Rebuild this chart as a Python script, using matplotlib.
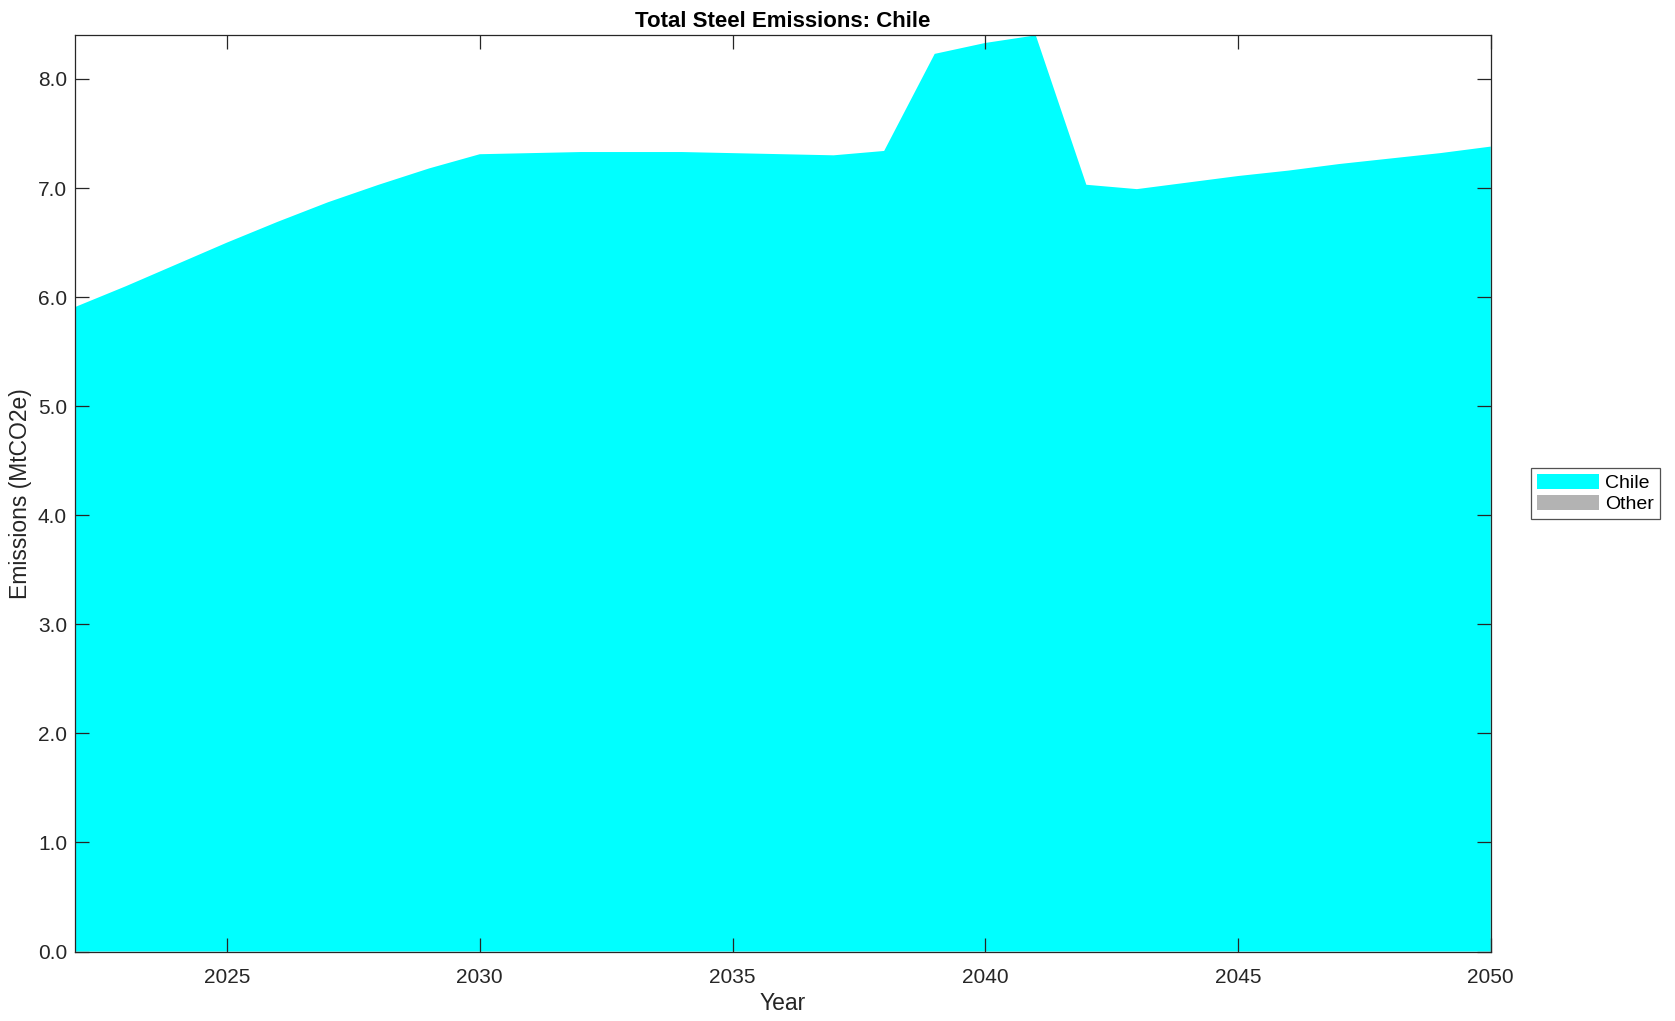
import matplotlib

matplotlib.use("Agg")
import matplotlib.pyplot as plt
import numpy as np

years = list(range(2022, 2051))
chile = [
    5.91, 6.10, 6.30, 6.50, 6.69, 6.87, 7.03, 7.18, 7.31,
    7.32, 7.33, 7.33, 7.33, 7.32, 7.31, 7.30, 7.34, 8.23, 8.33, 8.40,
    7.03, 6.99, 7.05, 7.11, 7.16, 7.22, 7.27, 7.32, 7.38,
]
other = [0.0] * len(years)
series_names = ["Chile", "Other"]
series_colors = ["#00ffff", "#b3b3b3"]
y_ticks = [0, 1, 2, 3, 4, 5, 6, 7, 8]
x_ticks = [2025, 2030, 2035, 2040, 2045, 2050]

plt.rcParams["font.family"] = ["Liberation Sans", "DejaVu Sans"]
TEXT = "#262626"

fig = plt.figure(figsize=(16.75, 10.21), dpi=100)
ax = fig.add_axes([0.045, 0.068, 0.845, 0.8974])

ax.stackplot(years, np.array(chile), np.array(other),
             colors=series_colors, labels=series_names, linewidth=0)

ax.set_xlim(2022, 2050)
ax.set_ylim(0, 8.4)
ax.set_xticks(x_ticks)
ax.set_yticks(y_ticks)
ax.set_yticklabels([f"{v:.1f}" for v in y_ticks])
ax.tick_params(direction="in", length=10, width=0.9, top=True, right=True,
               labelsize=15, colors=TEXT)
ax.tick_params(axis="x", pad=11.5)
ax.tick_params(axis="y", pad=6)
for s in ax.spines.values():
    s.set_color(TEXT)
    s.set_linewidth(0.9)
ax.set_axisbelow(False)

ax.set_title("Total Steel Emissions: Chile", fontsize=16, fontweight="bold",
             color="black", pad=6)
ax.set_xlabel("Year", fontsize=16.5, color=TEXT, labelpad=4)
ax.set_ylabel("Emissions (MtCO2e)", fontsize=16.5, color=TEXT, labelpad=4)

leg = ax.legend(loc="center left", bbox_to_anchor=(1.0287, 0.5), fontsize=14,
                frameon=True, fancybox=False, edgecolor=TEXT, handlelength=3.2,
                handleheight=0.85, borderpad=0.3, labelspacing=0.15,
                handletextpad=0.3, borderaxespad=0)
leg.get_frame().set_linewidth(0.9)

fig.savefig("out.png", dpi=100)
